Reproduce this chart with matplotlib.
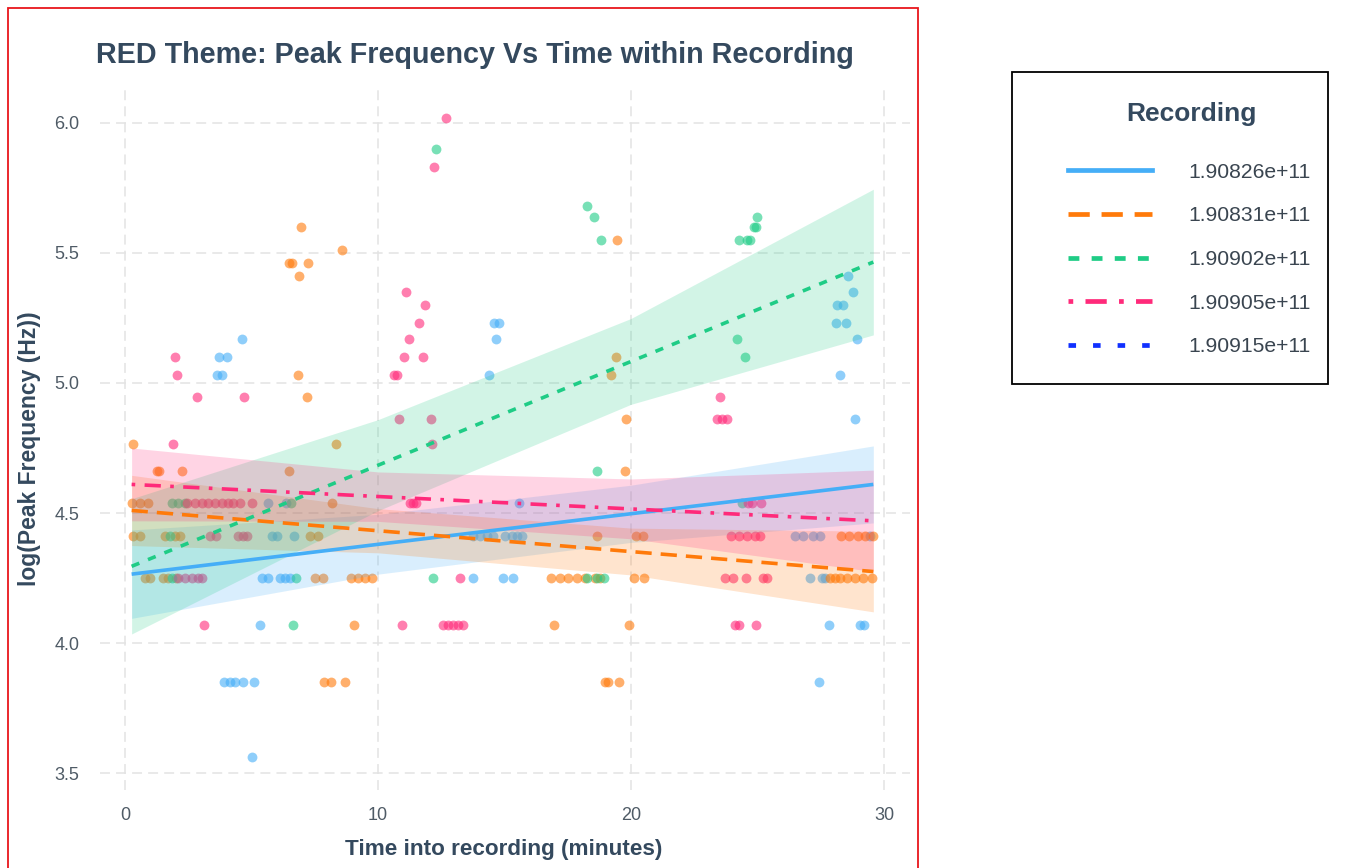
import matplotlib
matplotlib.use("Agg")
import matplotlib.pyplot as plt
from matplotlib.lines import Line2D
from matplotlib.patches import Rectangle

plt.rcParams["font.family"] = ["Liberation Sans", "DejaVu Sans"]

# recordings (legend labels)
recordings = ["1.90826e+11", "1.90831e+11", "1.90902e+11", "1.90905e+11", "1.90915e+11"]
colors = ["#45AEF7", "#FF7A0A", "#1FCC86", "#FF2A7A", "#1030FF"]
styles = ["-", (0, (4.5, 2.5)), (0, (2.3, 2.6)), (0, (1, 2.6, 4.5, 2.6)), (0, (1.6, 3.6))]

# scatter points, (time, log peak freq) per recording
blue_x = [4.62, 14.66, 28.93, 3.72, 4.03, 3.64, 3.83, 14.39, 28.26, 14.6, 14.8, 28.1, 28.5,
          28.14, 28.4, 28.78, 28.58, 28.85, 5.64, 6.35, 15.57,
          5.8, 6.0, 6.67, 13.77, 14.03, 14.3, 14.56, 15.02, 15.28, 15.48, 15.68, 26.48, 26.8, 27.2, 27.47, 29.45,
          5.4, 5.67, 6.13, 6.32, 6.52, 13.77, 14.95, 15.32, 27.08, 27.54, 27.67,
          5.34, 27.84, 29.05, 29.21, 3.91, 4.15, 4.35, 4.68, 5.10, 27.43, 5.0]
blue_y = [5.17, 5.17, 5.17, 5.10, 5.10, 5.03, 5.03, 5.03, 5.03, 5.23, 5.23, 5.23, 5.23,
          5.30, 5.30, 5.35, 5.41, 4.86, 4.54, 4.54, 4.54,
          4.41, 4.41, 4.41, 4.41, 4.41, 4.41, 4.41, 4.41, 4.41, 4.41, 4.41, 4.41, 4.41, 4.41, 4.41, 4.41,
          4.25, 4.25, 4.25, 4.25, 4.25, 4.25, 4.25, 4.25, 4.25, 4.25, 4.25,
          4.07, 4.07, 4.07, 4.07, 3.85, 3.85, 3.85, 3.85, 3.85, 3.85, 3.56]

orange_x = [6.96, 8.58, 6.5, 6.6, 7.23, 6.88, 6.84, 19.2, 7.19, 19.45, 19.4, 19.8,
            0.3, 8.34, 1.25, 1.36, 2.24, 6.48, 19.76, 0.26, 0.59, 0.92, 8.2,
            0.33, 0.59, 1.58, 1.98, 2.17, 7.31, 7.64, 18.67, 20.18, 20.49, 28.29, 28.63, 28.98, 29.25, 29.58,
            0.8, 1.0, 1.5, 1.7, 2.0, 7.5, 7.81, 8.92, 9.2, 9.47, 9.75, 16.83, 17.19, 17.52, 17.85, 18.18,
            18.58, 18.77, 20.12, 20.53, 27.87, 28.06, 28.26, 28.53, 28.85, 29.18, 29.51,
            9.05, 16.96, 19.91, 7.87, 8.15, 8.7, 18.97, 19.1, 19.54]
orange_y = [5.60, 5.51, 5.46, 5.46, 5.46, 5.41, 5.03, 5.03, 4.945, 5.55, 5.10, 4.86,
            4.765, 4.765, 4.66, 4.66, 4.66, 4.66, 4.66, 4.54, 4.54, 4.54, 4.54,
            4.41, 4.41, 4.41, 4.41, 4.41, 4.41, 4.41, 4.41, 4.41, 4.41, 4.41, 4.41, 4.41, 4.41, 4.41,
            4.25, 4.25, 4.25, 4.25, 4.25, 4.25, 4.25, 4.25, 4.25, 4.25, 4.25, 4.25, 4.25, 4.25, 4.25, 4.25,
            4.25, 4.25, 4.25, 4.25, 4.25, 4.25, 4.25, 4.25, 4.25, 4.25, 4.25,
            4.07, 4.07, 4.07, 3.85, 3.85, 3.85, 3.85, 3.85, 3.85]

green_x = [12.29, 18.26, 18.54, 25.0, 24.85, 24.95, 18.8, 24.27, 24.6, 24.7, 24.2, 24.5,
           18.65, 1.84, 2.1, 2.37, 6.55, 24.37, 1.78, 1.84, 6.76, 12.16, 18.25, 18.64, 18.93, 6.63]
green_y = [5.90, 5.68, 5.64, 5.64, 5.60, 5.60, 5.55, 5.55, 5.55, 5.55, 5.17, 5.10,
           4.66, 4.54, 4.54, 4.54, 4.54, 4.54, 4.41, 4.25, 4.25, 4.25, 4.25, 4.25, 4.25, 4.07]

pink_x = [12.69, 12.21, 11.1, 11.86, 11.62, 11.23, 1.98, 11.03, 11.78, 2.05, 10.65, 10.75,
          2.85, 4.70, 23.5, 10.83, 12.1, 23.4, 23.6, 23.8, 1.91, 12.13,
          2.46, 2.77, 3.03, 3.29, 3.56, 3.82, 4.08, 4.28, 4.55, 5.0, 11.26, 11.4, 11.5, 24.64, 24.77, 25.13,
          3.36, 3.6, 4.48, 4.65, 4.81, 23.95, 24.28, 24.6, 24.9, 25.1,
          2.1, 2.37, 2.63, 2.9, 3.03, 13.24, 23.72, 24.04, 24.53, 25.23, 25.36,
          3.12, 10.96, 12.58, 12.78, 12.98, 13.18, 13.37, 24.11, 24.28, 24.94]
pink_y = [6.02, 5.83, 5.35, 5.30, 5.23, 5.17, 5.10, 5.10, 5.10, 5.03, 5.03, 5.03,
          4.945, 4.945, 4.945, 4.86, 4.86, 4.86, 4.86, 4.86, 4.765, 4.765,
          4.54, 4.54, 4.54, 4.54, 4.54, 4.54, 4.54, 4.54, 4.54, 4.54, 4.54, 4.54, 4.54, 4.54, 4.54, 4.54,
          4.41, 4.41, 4.41, 4.41, 4.41, 4.41, 4.41, 4.41, 4.41, 4.41,
          4.25, 4.25, 4.25, 4.25, 4.25, 4.25, 4.25, 4.25, 4.25, 4.25, 4.25,
          4.07, 4.07, 4.07, 4.07, 4.07, 4.07, 4.07, 4.07, 4.07, 4.07]

# linear fits and confidence bands
fit_x = [0.26, 29.58]
fit_y = [[4.265, 4.61], [4.51, 4.275], [4.295, 5.465], [4.61, 4.47]]
band_x = [0.26, 10, 20, 29.58]
band_lo = [[4.095, 4.265, 4.387, 4.462], [4.375, 4.347, 4.262, 4.12],
           [4.035, 4.509, 4.918, 5.185], [4.47, 4.468, 4.401, 4.275]]
band_hi = [[4.435, 4.495, 4.607, 4.758], [4.645, 4.517, 4.442, 4.43],
           [4.555, 4.859, 5.248, 5.745], [4.75, 4.658, 4.631, 4.665]]

points = [(blue_x, blue_y), (orange_x, orange_y), (green_x, green_y), (pink_x, pink_y)]

W, H = 1356, 868
fig = plt.figure(figsize=(W / 100, H / 100), dpi=100)
ax = fig.add_axes([100 / W, 1 - 790 / H, 810 / W, 704 / H])

for i, (xs, ys) in enumerate(points):
    ax.scatter(xs, ys, s=50, color=colors[i], alpha=0.6, linewidths=0, zorder=2)

for i in range(4):
    ax.fill_between(band_x, band_lo[i], band_hi[i], color=colors[i], alpha=0.2, linewidth=0, zorder=3)
for i in range(4):
    ax.plot(fit_x, fit_y[i], color=colors[i], linestyle=styles[i], lw=2.6, zorder=4,
            solid_capstyle="butt", dash_capstyle="butt")

ax.set_xlim(-0.99, 31.03)
ax.set_ylim(3.435, 6.142)
ax.set_xticks([0, 10, 20, 30])
ax.set_yticks([3.5, 4.0, 4.5, 5.0, 5.5, 6.0])
ax.set_yticklabels(["3.5", "4.0", "4.5", "5.0", "5.5", "6.0"])
ax.tick_params(length=0, labelsize=13, labelcolor="#4F5B66")
ax.tick_params(axis="y", pad=15)
ax.tick_params(axis="x", pad=12)
ax.grid(True, color="#E3E3E3", lw=1.1, linestyle=(0, (6.5, 4)))
ax.set_axisbelow(True)
for sp in ax.spines.values():
    sp.set_visible(False)

title_col = "#34495E"
fig.text(475 / W, 1 - 55 / H, "RED Theme: Peak Frequency Vs Time within Recording",
         ha="center", va="center", fontsize=20.7, fontweight="bold", color=title_col)
fig.text(504 / W, 1 - 850 / H, "Time into recording (minutes)", ha="center", va="center",
         fontsize=16.2, fontweight="bold", color=title_col)
fig.text(30 / W, 1 - 449 / H, "log(Peak Frequency (Hz))", ha="center", va="center",
         rotation=90, fontsize=16.5, fontweight="bold", color=title_col)

# red outer frame
fig.add_artist(Rectangle((8 / W, -0.02), 910 / W, 1.02 - 8 / H, transform=fig.transFigure,
                         fill=False, edgecolor="#E8161B", lw=1.3))

# legend
fig.add_artist(Rectangle((1012 / W, 1 - 384 / H), 316 / W, 312 / H, transform=fig.transFigure,
                         fill=False, edgecolor="black", lw=1.3))
fig.text(1191 / W, 1 - 114 / H, "Recording", ha="center", va="center",
         fontsize=19, fontweight="bold", color=title_col)
handles = [Line2D([], [], color=colors[i], linestyle=styles[i], lw=3.4,
                  dash_capstyle="butt") for i in range(5)]
fig.legend(handles, recordings, loc="center left", bbox_to_anchor=(1068 / W, 1 - 259.5 / H),
           frameon=False, fontsize=15.2, handlelength=3.98, handletextpad=1.7,
           labelspacing=1.165, borderpad=0, borderaxespad=0, labelcolor="#3A4550")

fig.savefig("out.png", dpi=100)
